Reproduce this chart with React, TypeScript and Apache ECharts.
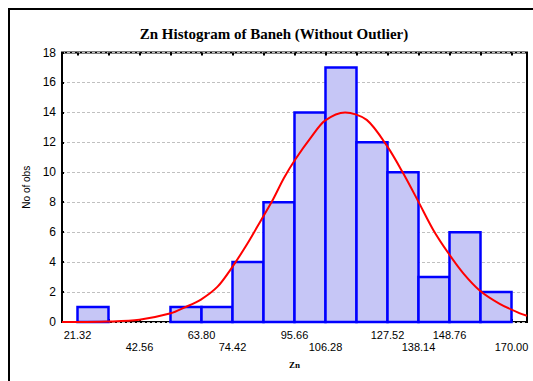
import React, { useEffect, useRef } from "react";
import * as echarts from "echarts";

const binEdges = [21.32, 31.94, 42.56, 53.18, 63.8, 74.42, 85.04, 95.66, 106.28, 116.9, 127.52, 138.14, 148.76, 159.38, 170.0];
const counts = [1, 0, 0, 1, 1, 4, 8, 14, 17, 12, 10, 3, 6, 2];
const tickLabelsRow1 = [21.32, 63.8, 95.66, 127.52, 148.76];
const tickLabelsRow2 = [42.56, 74.42, 106.28, 138.14, 170.0];
const curveX = [16.01, 21.32, 31.6, 42.5, 53.3, 57.9, 63.6, 69.3, 74.1, 79.6, 84.2, 88.2, 92.0, 95.8, 101.5, 106.1, 113.0, 120.4, 127.5, 132.9, 138.1, 143.2, 148.4, 153.5, 159.2, 166.1, 172.9, 175.31];
const curveY = [0.0, 0.0, 0.03, 0.15, 0.58, 0.96, 1.5, 2.36, 3.6, 5.26, 6.8, 8.15, 9.6, 10.82, 12.38, 13.45, 14.0, 13.5, 11.71, 9.93, 8.04, 6.15, 4.59, 3.25, 2.09, 1.2, 0.58, 0.42];
const yTicks = [0, 2, 4, 6, 8, 10, 12, 14, 16, 18];

const xMin = 16.01;
const xMax = 175.31;

export default function App() {
  const ref = useRef<HTMLDivElement>(null);
  useEffect(() => {
    if (!ref.current) return;
    const chart = echarts.init(ref.current, null, { renderer: "svg" });
    const barData = counts
      .map((c, i) => [binEdges[i], binEdges[i + 1], c])
      .filter((d) => d[2] > 0);
    const curveData = curveX.map((x, i) => [x, curveY[i]]);
    const allLabels = [...tickLabelsRow1, ...tickLabelsRow2].sort((a, b) => a - b);
    const row2Set = new Set(tickLabelsRow2.map((v) => v.toFixed(2)));
    chart.setOption({
      animation: false,
      backgroundColor: "#ffffff",
      title: {
        text: "Zn Histogram of Baneh (Without Outlier)",
        left: 269,
        textAlign: "center",
        top: 21,
        textStyle: {
          fontFamily: "Liberation Serif",
          fontWeight: "bold",
          fontSize: 15,
          color: "#000",
        },
      },
      graphic: [
        {
          type: "rect",
          shape: { x: 9, y: 9, width: 700, height: 600 },
          style: { fill: "none", stroke: "#000", lineWidth: 2 },
          silent: true,
        },
      ],
      grid: {
        left: 62,
        right: 6,
        top: 52.5,
        bottom: 59,
        show: true,
        borderColor: "#000",
        borderWidth: 2,
        backgroundColor: "transparent",
      },
      xAxis: [
        {
          type: "value",
          min: xMin,
          max: xMax,
          position: "bottom",
          name: "Zn",
          nameLocation: "middle",
          nameGap: 38,
          nameTextStyle: {
            fontFamily: "Liberation Serif",
            fontWeight: "bold",
            fontSize: 9,
            color: "#000",
          },
          axisLine: { show: false },
          splitLine: { show: false },
          axisTick: {
            show: true,
            inside: true,
            length: 3,
            customValues: binEdges,
            lineStyle: { color: "#000", width: 2 },
          },
          axisLabel: {
            show: true,
            customValues: allLabels,
            margin: 7,
            fontFamily: "Liberation Sans",
            fontSize: 11,
            color: "#000",
            lineHeight: 12,
            formatter: (v: number) => {
              const s = v.toFixed(2);
              return row2Set.has(s) ? "\n" + s : s;
            },
          },
        },
        {
          type: "value",
          min: xMin,
          max: xMax,
          position: "top",
          axisLine: { show: false },
          splitLine: { show: false },
          axisLabel: { show: false },
          axisTick: {
            show: true,
            inside: true,
            length: 3,
            customValues: binEdges,
            lineStyle: { color: "#000", width: 2 },
          },
        },
      ],
      yAxis: {
        type: "value",
        min: 0,
        max: 18,
        interval: 2,
        name: "No of obs",
        nameLocation: "middle",
        nameGap: 26,
        nameTextStyle: {
          fontFamily: "Liberation Sans",
          fontSize: 10,
          color: "#000",
        },
        axisLine: { show: false },
        axisTick: {
          show: true,
          inside: true,
          length: 2,
          lineStyle: { color: "#000", width: 2 },
        },
        axisLabel: {
          margin: 6,
          fontFamily: "Liberation Sans",
          fontSize: 12,
          color: "#000",
          customValues: yTicks,
        },
        splitLine: {
          show: true,
          lineStyle: { color: "#c0c0c0", type: [3, 2], width: 1 },
        },
      },
      series: [
        {
          type: "custom",
          xAxisIndex: 0,
          data: barData,
          renderItem: (params: any, api: any) => {
            const x0 = api.value(0);
            const x1 = api.value(1);
            const c = api.value(2);
            const p0 = api.coord([x0, c]);
            const p1 = api.coord([x1, 0]);
            return {
              type: "rect",
              shape: { x: p0[0], y: p0[1], width: p1[0] - p0[0], height: p1[1] - p0[1] },
              style: { fill: "#c6c6f6", stroke: "#0000ff", lineWidth: 2.5 },
            };
          },
          z: 2,
        },
        {
          type: "line",
          xAxisIndex: 0,
          data: curveData,
          smooth: 0.3,
          symbol: "none",
          lineStyle: { color: "#ff0000", width: 2 },
          z: 3,
        },
      ],
    });
    return () => chart.dispose();
  }, []);
  return (
    <div
      ref={ref}
      style={{ position: "fixed", left: 0, top: 0, width: 533, height: 381, background: "#fff" }}
    />
  );
}
